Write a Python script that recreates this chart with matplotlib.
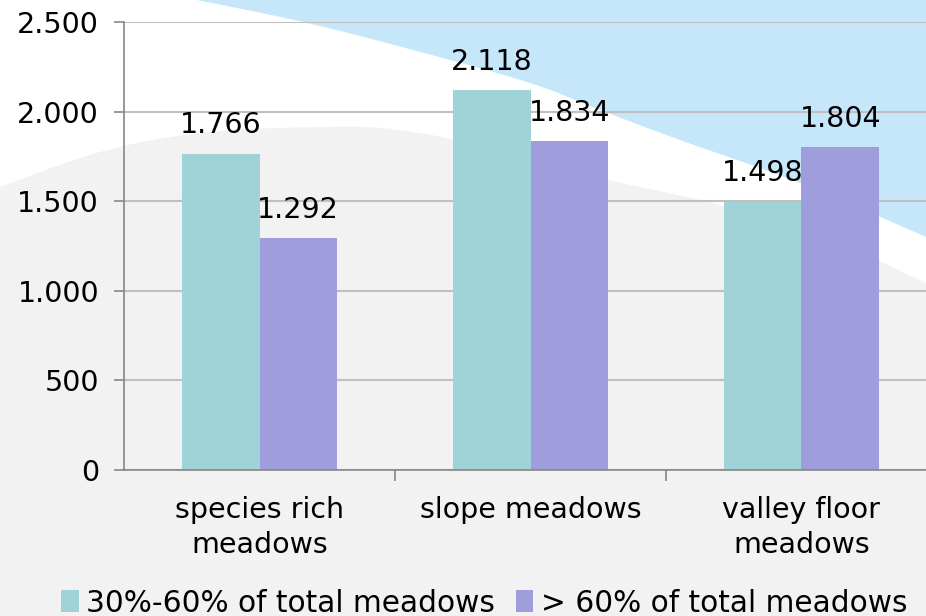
import numpy as np
from matplotlib import pyplot as plt
from matplotlib.patches import Polygon

# data
categories = ["species rich\nmeadows", "slope meadows", "valley floor\nmeadows"]
series_names = ["30%-60% of total meadows", "> 60% of total meadows"]
low_share = [1766, 2118, 1498]
high_share = [1292, 1834, 1804]
y_ticks = [0, 500, 1000, 1500, 2000, 2500]

teal = "#A0D3D7"
purple = "#A09DDD"
W, H = 926, 616
FS = 20.5


def fmt(v):
    # thousands separator is a dot
    return "{:,}".format(v).replace(",", ".")


def smooth(pts, n=30):
    # catmull-rom through a few pixel points, for the background swoosh
    pts = np.array(pts, dtype=float)
    p = np.vstack([pts[0], pts, pts[-1]])
    out = []
    for i in range(1, len(p) - 2):
        p0, p1, p2, p3 = p[i - 1], p[i], p[i + 1], p[i + 2]
        for t in np.linspace(0, 1, n, endpoint=False):
            out.append(0.5 * ((2 * p1) + (-p0 + p2) * t
                              + (2 * p0 - 5 * p1 + 4 * p2 - p3) * t ** 2
                              + (-p0 + 3 * p1 - 3 * p2 + p3) * t ** 3))
    out.append(p[-2])
    return np.array(out)


def to_fig(pts):
    pts = np.array(pts, dtype=float)
    return np.column_stack([pts[:, 0] / W, 1 - pts[:, 1] / H])


fig = plt.figure(figsize=(W / 100, H / 100), dpi=100)
fig.patch.set_facecolor("white")

# background: light blue top right, grey hump at the bottom, white band between
blue_edge = smooth([(197, 0), (303, 22), (413, 50), (530, 83), (600, 110),
                    (680, 140), (800, 183), (926, 237)])
blue = np.vstack([blue_edge, [(940, 237), (940, -5), (197, -5)]])
fig.patches.append(Polygon(to_fig(blue), closed=True, transform=fig.transFigure,
                           facecolor="#C6E7F9", edgecolor="none", zorder=-2))
grey_edge = smooth([(0, 187), (100, 152), (200, 133), (320, 127), (400, 130),
                    (500, 150), (600, 178), (720, 205), (830, 240), (926, 283)])
grey = np.vstack([grey_edge, [(940, 283), (940, 620), (-5, 620), (-5, 187)]])
fig.patches.append(Polygon(to_fig(grey), closed=True, transform=fig.transFigure,
                           facecolor="#F2F2F2", edgecolor="none", zorder=-2))

ax = fig.add_axes([124 / W, (H - 470) / H, 813 / W, 448 / H])
ax.set_facecolor("none")

x = np.arange(len(categories))
bw = 0.286
b1 = ax.bar(x - bw / 2, low_share, bw, color=teal, label=series_names[0], zorder=3)
b2 = ax.bar(x + bw / 2, high_share, bw, color=purple, label=series_names[1], zorder=3)

for bars, vals in [(b1, low_share), (b2, high_share)]:
    for r, v in zip(bars, vals):
        ax.annotate(fmt(v), (r.get_x() + r.get_width() / 2, v), xytext=(0, 14.5),
                    textcoords="offset points", ha="center", va="baseline", fontsize=FS)

ax.set_xlim(-0.5, 2.5)
ax.set_ylim(0, 2500)
ax.set_yticks(y_ticks)
ax.set_yticklabels([fmt(t) for t in y_ticks], fontsize=FS)
ax.set_xticks(x)
ax.set_xticklabels(categories, fontsize=FS, linespacing=1.3)
ax.tick_params(axis="x", length=0, pad=19)
ax.set_xticks([0.5, 1.5], minor=True)
ax.tick_params(axis="x", which="minor", length=8, width=1.2, color="#868686")
ax.tick_params(axis="y", length=7, width=1.2, color="#868686", pad=11)

ax.grid(axis="y", color="#C0C0C0", linewidth=1.5, zorder=0)
ax.set_axisbelow(True)
for s in ["top", "right"]:
    ax.spines[s].set_visible(False)
for s in ["left", "bottom"]:
    ax.spines[s].set_color("#868686")
    ax.spines[s].set_linewidth(1.2)
    ax.spines[s].set_zorder(4)

fig.legend(handles=[b1, b2], loc="center", bbox_to_anchor=(484 / W, 1 - 603 / H),
           ncol=2, frameon=False, fontsize=FS + 0.8, handlelength=0.6, handleheight=0.75,
           handletextpad=0.25, columnspacing=0.7, borderpad=0)

fig.savefig("out.png", dpi=100)
